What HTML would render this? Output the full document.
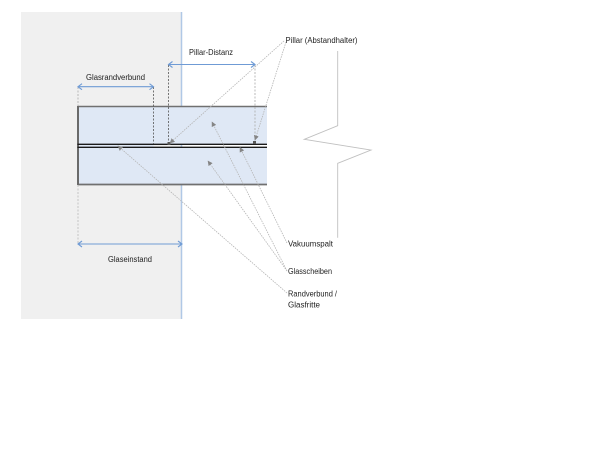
<!DOCTYPE html>
<html><head><meta charset="utf-8"><style>
html,body{margin:0;padding:0;background:#fff;}
svg{display:block;}
text{font-family:"Liberation Sans",sans-serif;font-size:7.8px;fill:#1e1e1e;}
</style></head><body>
<svg width="600" height="450" viewBox="0 0 600 450" xmlns="http://www.w3.org/2000/svg">
<defs>
<marker id="ah" viewBox="0 0 10 10" refX="9" refY="5" markerWidth="5" markerHeight="5" orient="auto" markerUnits="userSpaceOnUse">
<path d="M0,0 L10,5 L0,10 z" fill="#858585"/>
</marker>
</defs>
<!-- gray region -->
<rect x="21" y="12" width="160.5" height="307" fill="#f0f0f0"/>
<line x1="181.5" y1="12" x2="181.5" y2="319" stroke="#b0c8e6" stroke-width="1.5"/>

<!-- panes -->
<rect x="77.5" y="106" width="189.5" height="38.5" fill="#dfe8f5"/>
<rect x="77.5" y="147" width="189.5" height="38" fill="#dfe8f5"/>
<rect x="77.5" y="144" width="76" height="3" fill="#dfe8f5"/>
<line x1="77.5" y1="106.5" x2="267" y2="106.5" stroke="#707070" stroke-width="1.5"/>
<line x1="77.5" y1="184.5" x2="267" y2="184.5" stroke="#707070" stroke-width="1.8"/>
<line x1="78" y1="106" x2="78" y2="185" stroke="#6a6a6a" stroke-width="2"/>
<line x1="77.5" y1="144.3" x2="267" y2="144.3" stroke="#1a1a1a" stroke-width="1.3"/>
<line x1="77.5" y1="147.3" x2="267" y2="147.3" stroke="#1a1a1a" stroke-width="1.3"/>

<!-- pillars -->
<rect x="167.5" y="142" width="3" height="3" fill="#555"/>
<rect x="253" y="141" width="3" height="3" fill="#555"/>

<!-- dashed verticals -->
<line x1="153.5" y1="87" x2="153.5" y2="144" stroke="#555" stroke-width="0.8" stroke-dasharray="2,1.5"/>
<line x1="168.5" y1="65" x2="168.5" y2="143" stroke="#555" stroke-width="0.8" stroke-dasharray="2,1.5"/>
<line x1="255" y1="65" x2="255" y2="141" stroke="#aaa" stroke-width="0.8" stroke-dasharray="2,1.5"/>
<line x1="78" y1="87" x2="78" y2="106" stroke="#aaa" stroke-width="0.8" stroke-dasharray="2,1.5"/>
<line x1="78" y1="185" x2="78" y2="244" stroke="#bbb" stroke-width="0.8" stroke-dasharray="2,1.5"/>

<!-- dimension arrows -->
<g stroke="#6f9bd5" stroke-width="1.1" fill="none">
<line x1="78" y1="86.7" x2="153.5" y2="86.7"/>
<path d="M82,83.7 L78,86.7 L82,89.7 M149.5,83.7 L153.5,86.7 L149.5,89.7"/>
<line x1="168.5" y1="64.5" x2="255" y2="64.5"/>
<path d="M172.5,61.5 L168.5,64.5 L172.5,67.5 M251,61.5 L255,64.5 L251,67.5"/>
<line x1="78" y1="244" x2="182" y2="244"/>
<path d="M82,241 L78,244 L82,247 M178,241 L182,244 L178,247"/>
</g>

<!-- leader lines -->
<g stroke="#b5b5b5" stroke-width="0.8" stroke-dasharray="1.5,1" fill="none" marker-end="url(#ah)">
<line x1="284" y1="41" x2="170" y2="143"/>
<line x1="286" y1="42" x2="255" y2="140"/>
<line x1="287" y1="243" x2="240" y2="147.5"/>
<line x1="287" y1="271" x2="212" y2="122"/>
<line x1="287" y1="271" x2="208" y2="161"/>
<line x1="287" y1="293" x2="118" y2="146"/>
</g>

<!-- break line -->
<path d="M337.7,51 L337.7,125.7 L304.3,139.3 L371,150 L337.7,163.3 L337.7,237.7" stroke="#c0c0c0" stroke-width="0.9" fill="none"/>

<!-- labels -->
<text x="86" y="80" textLength="59" lengthAdjust="spacingAndGlyphs">Glasrandverbund</text>
<text x="189" y="55" textLength="44" lengthAdjust="spacingAndGlyphs">Pillar-Distanz</text>
<text x="285.5" y="43" textLength="72" lengthAdjust="spacingAndGlyphs">Pillar (Abstandhalter)</text>
<text x="108" y="262" textLength="44" lengthAdjust="spacingAndGlyphs">Glaseinstand</text>
<text x="288" y="246.5" textLength="45" lengthAdjust="spacingAndGlyphs">Vakuumspalt</text>
<text x="288" y="274" textLength="44" lengthAdjust="spacingAndGlyphs">Glasscheiben</text>
<text x="288" y="296.5" textLength="49" lengthAdjust="spacingAndGlyphs">Randverbund /</text>
<text x="288" y="307.5" textLength="32" lengthAdjust="spacingAndGlyphs">Glasfritte</text>
</svg>
</body></html>
